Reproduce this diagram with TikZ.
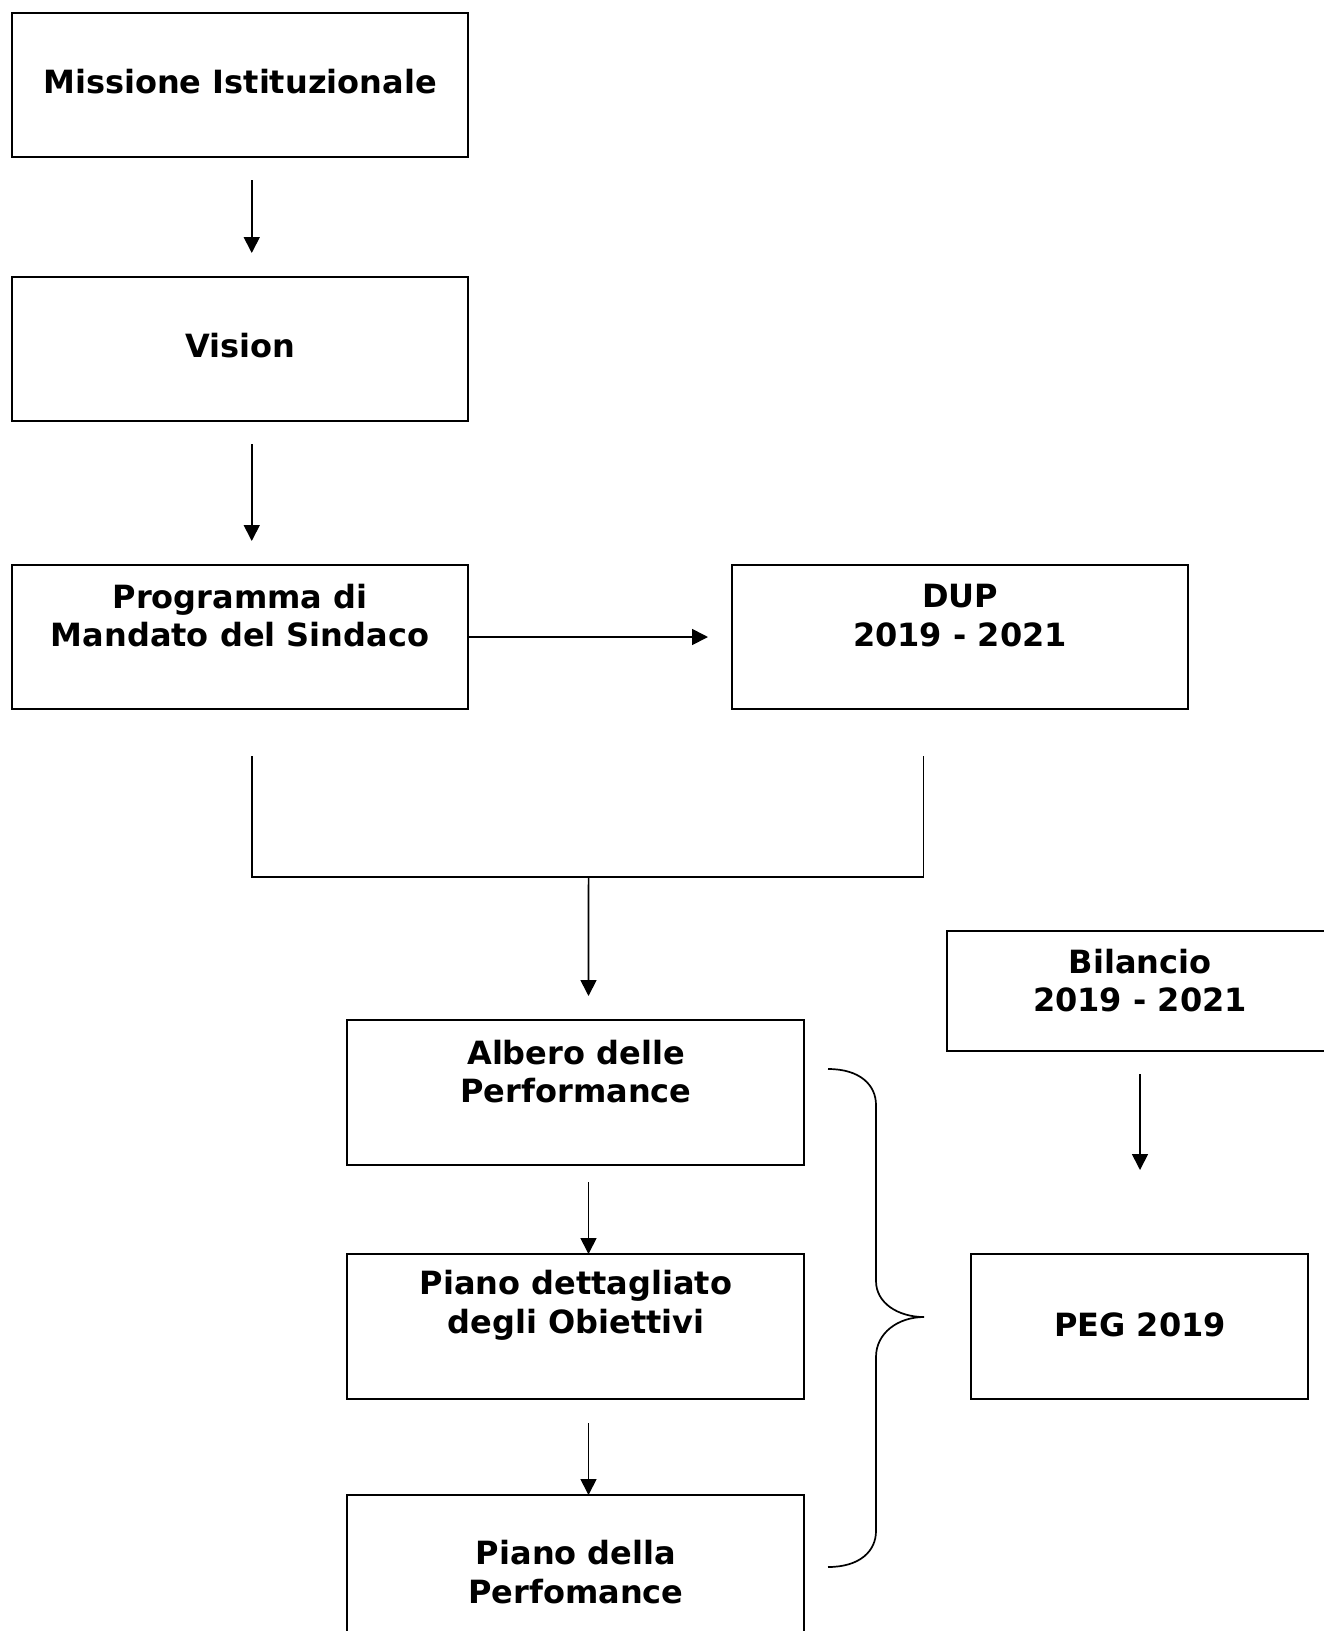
\documentclass[tikz,border=0pt]{standalone}
\usepackage{fontspec}
\setmainfont{DejaVu Sans}
\usetikzlibrary{arrows.meta}
\begin{document}
\begin{tikzpicture}[x=1pt,y=-1pt,
  box/.style={draw, line width=2pt, rectangle, inner sep=0pt, outer sep=0pt},
  lbl/.style={align=center, inner sep=0pt, font=\fontsize{32}{38.5}\selectfont\bfseries},
  arr/.style={line width=1.7pt, -{Triangle[length=16pt,width=16pt]}},
  conn/.style={line width=1.7pt}]
\useasboundingbox (0,0) rectangle (1324,1631);
\fill[white] (0,0) rectangle (1324,1631);
% boxes
\node[box, minimum width=456.5pt, minimum height=144.5pt] (m) at (239.75,84.75) {};
\node[box, minimum width=456.5pt, minimum height=144pt] (v) at (239.75,349) {};
\node[box, minimum width=456.5pt, minimum height=144pt] (p) at (239.75,637) {};
\node[box, minimum width=456pt, minimum height=144pt] (d) at (960,637) {};
\node[box, minimum width=457pt, minimum height=145pt] (al) at (575.5,1092.5) {};
\node[box, minimum width=457pt, minimum height=145pt] (pd) at (575.5,1326.5) {};
\node[box, minimum width=457pt, minimum height=145pt] (pp) at (575.5,1567.5) {};
\node[box, minimum width=383pt, minimum height=120pt] (bil) at (1138.5,991) {};
\node[box, minimum width=337pt, minimum height=145pt] (peg) at (1139.5,1326.5) {};
% texts
\node[lbl] (mt) at (240,82) {Missione Istituzionale};
\node[lbl] (vt) at (240,346) {Vision};
\node[lbl] (pt) at (240,615.5) {Programma di\\Mandato del Sindaco};
\node[lbl] (dt) at (960,615.5) {DUP\\2019 - 2021};
\node[lbl] (alt) at (576,1071.5) {Albero delle\\Performance};
\node[lbl] (pdt) at (576,1305.5) {Piano dettagliato\\degli Obiettivi};
\node[lbl] (ppt) at (576,1572) {Piano della\\Perfomance};
\node[lbl] (bilt) at (1140,980.5) {Bilancio\\2019 - 2021};
\node[lbl] (pegt) at (1140,1325) {PEG 2019};
% connectors
\draw[arr] ([xshift=12pt,yshift=-23pt]m.south) -- ([xshift=12pt,yshift=24pt]v.north);
\draw[arr] ([xshift=12pt,yshift=-23pt]v.south) -- ([xshift=12pt,yshift=24pt]p.north);
\draw[arr] (p.east) -- ([xshift=-24pt]d.west);
\coordinate (j) at (588.6,877);
\draw[conn] ([xshift=12pt,yshift=-47pt]p.south) |- (j);
\draw[conn] ([xshift=-36.5pt,yshift=-47pt]d.south) |- (j);
\draw[arr] (j) -- ([xshift=13pt,yshift=24pt]al.north);
\draw[arr] ([xshift=13pt,yshift=-17pt]al.south) -- ([xshift=13pt]pd.north);
\draw[arr] ([xshift=13pt,yshift=-24pt]pd.south) -- ([xshift=13pt]pp.north);
\draw[arr] ([xshift=1.5pt,yshift=-23pt]bil.south) -- ([xshift=0.5pt,yshift=84pt]peg.north);
% brace
\draw[line width=1.7pt] (828,1069) .. controls (860,1069) and (876,1085) .. (876,1105)
  -- (876,1281) .. controls (876,1303) and (898,1317) .. (924,1317)
  .. controls (898,1317) and (876,1333) .. (876,1357)
  -- (876,1531) .. controls (876,1551) and (860,1567) .. (828,1567);
\end{tikzpicture}
\end{document}
